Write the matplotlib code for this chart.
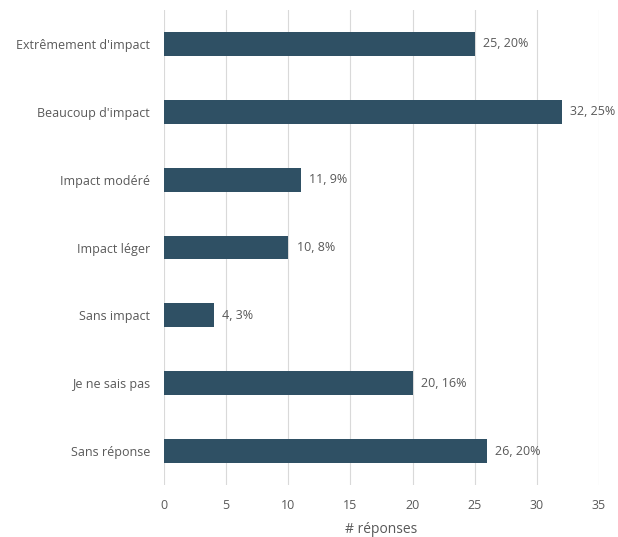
import matplotlib
matplotlib.use("Agg")
import matplotlib.pyplot as plt

categories = ["Extrêmement d'impact", "Beaucoup d'impact", "Impact modéré",
              "Impact léger", "Sans impact", "Je ne sais pas", "Sans réponse"]
counts = [25, 32, 11, 10, 4, 20, 26]
percents = ["20%", "25%", "9%", "8%", "3%", "16%", "20%"]
x_ticks = [0, 5, 10, 15, 20, 25, 30, 35]

plt.rcParams['font.family'] = ['Open Sans', 'DejaVu Sans']
text_color = "#595959"
bar_color = "#2F5064"

fig = plt.figure(figsize=(6.18, 5.37), dpi=100)
ax = fig.add_axes([164/618, 52/537, (599-164)/618, (485-10)/537])

ypos = list(range(len(categories)))
ax.barh(ypos, counts, height=0.35, color=bar_color, zorder=3)
for y, c, p in zip(ypos, counts, percents):
    ax.annotate(f"{c}, {p}", xy=(c, y), xytext=(6, 0), textcoords="offset points",
                va="center", ha="left", fontsize=9, color=text_color)

ax.set_xlim(0, 35)
ax.set_ylim(len(categories) - 0.5, -0.5)
ax.set_xticks(x_ticks)
ax.set_yticks(ypos)
ax.set_yticklabels(categories)
ax.tick_params(axis="both", length=0, labelsize=9, labelcolor=text_color)
ax.tick_params(axis="y", pad=10)
ax.tick_params(axis="x", pad=10)
ax.grid(axis="x", color="#D9D9D9", linewidth=0.8, zorder=0)
for s in ax.spines.values():
    s.set_visible(False)
ax.set_xlabel("# réponses", fontsize=10, color=text_color, labelpad=7)

fig.savefig("out.png", dpi=100)
